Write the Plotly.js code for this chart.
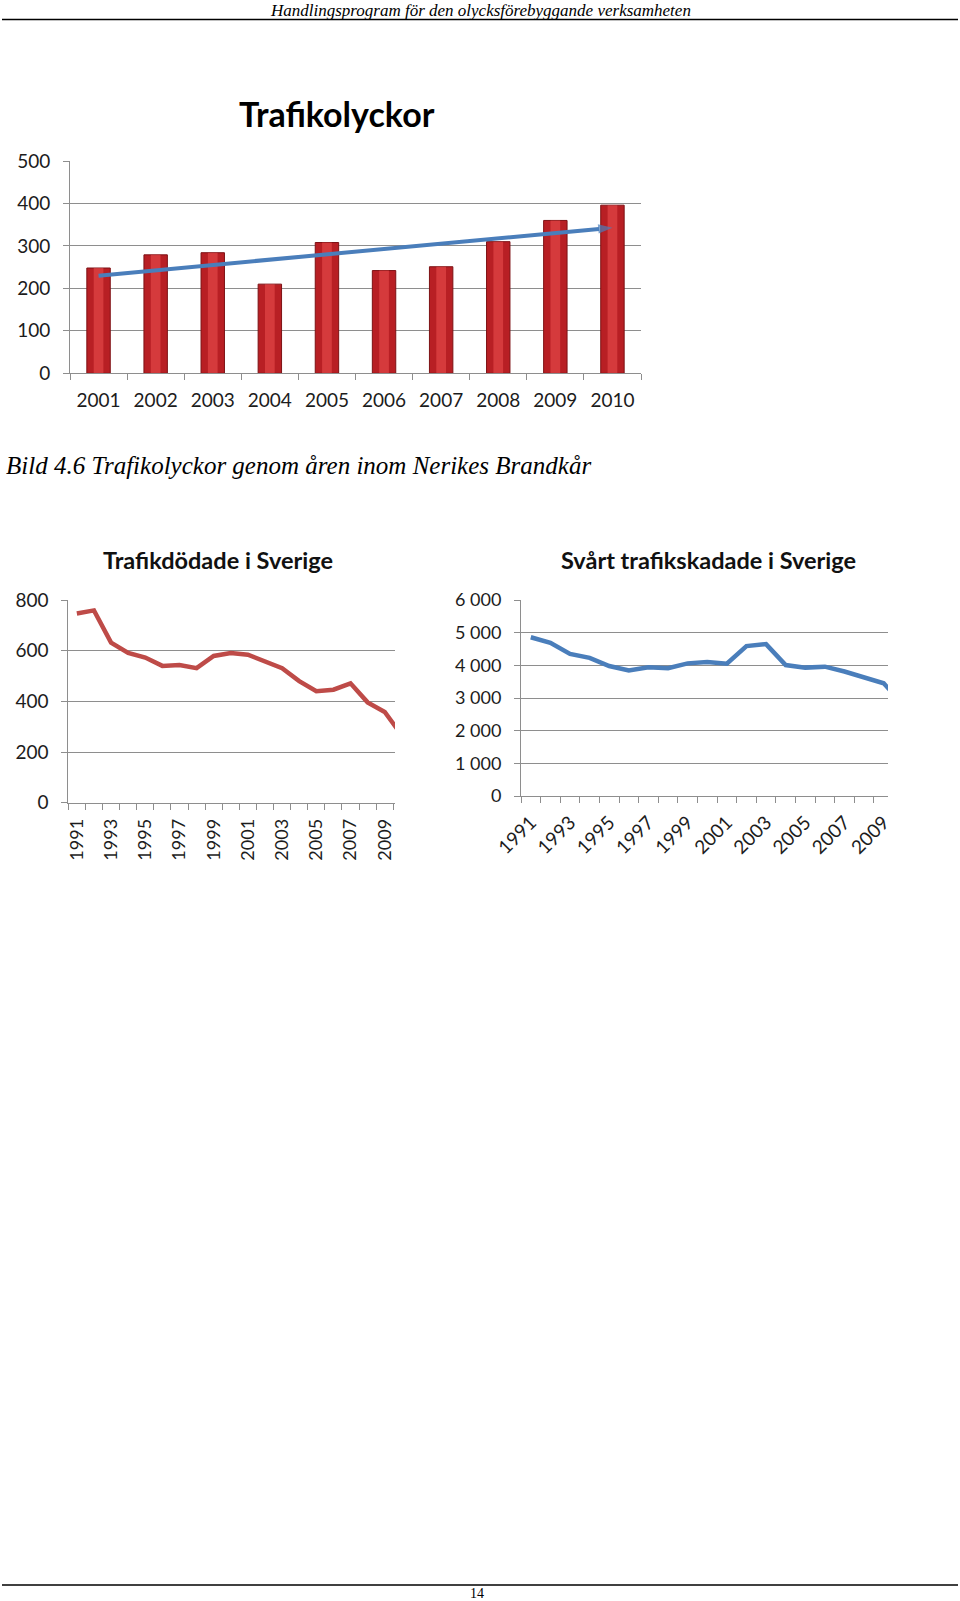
<!DOCTYPE html>
<html>
<head>
<meta charset="utf-8">
<script src="https://cdn.plot.ly/plotly-3.0.1.min.js"></script>
<style>
  html, body { margin: 0; padding: 0; background: #ffffff; }
  #chart { width: 960px; height: 1601px; }
</style>
</head>
<body>
<div id="chart"></div>
<script>
// ---------- Data ----------
const olyckaYears = ['2001', '2002', '2003', '2004', '2005', '2006', '2007', '2008', '2009', '2010'];
const olyckaValues = [248, 279, 284, 210, 308, 242, 251, 310, 360, 396];
const trendYears = ['2001', '2010'];
const trendValues = [230, 343];

const years = [1991, 1992, 1993, 1994, 1995, 1996, 1997, 1998, 1999, 2000,
               2001, 2002, 2003, 2004, 2005, 2006, 2007, 2008, 2009, 2010];
const dodadeValues = [747, 759, 632, 591, 573, 540, 543, 531, 579, 591,
                      584, 559, 531, 480, 440, 446, 471, 396, 358, 266];
const skadadeValues = [4860, 4690, 4350, 4230, 3980, 3840, 3940, 3910, 4060, 4100,
                       4050, 4590, 4650, 4010, 3930, 3960, 3810, 3630, 3450, 2800];

const yearLabelVals = [1991, 1993, 1995, 1997, 1999, 2001, 2003, 2005, 2007, 2009];
const skadadeTickVals = [0, 1000, 2000, 3000, 4000, 5000, 6000];
const skadadeTickText = ['0', '1 000', '2 000', '3 000', '4 000', '5 000', '6 000'];

const titleTop = 'Trafikolyckor';
const titleLeft = 'Trafikdödade i Sverige';
const titleRight = 'Svårt trafikskadade i Sverige';
const headerText = 'Handlingsprogram för den olycksförebyggande verksamheten';
const captionText = 'Bild 4.6 Trafikolyckor genom åren inom Nerikes Brandkår';
const pageNumber = '14';

// ---------- Geometry helpers ----------
const W = 960, H = 1601;
const px = x => x / W;
const py = y => 1 - y / H;

const FONT = 'Lato, "Open Sans", sans-serif';
const SERIF = '"Liberation Serif", "DejaVu Serif", serif';
const GRID = '#8e8e8e';
const TXT = '#1c1c1c';

const yAxisBase = {
  showline: true, linecolor: GRID, linewidth: 1,
  showgrid: true, gridcolor: GRID, gridwidth: 1,
  ticks: 'outside', ticklen: 6, tickcolor: GRID,
  zeroline: false, fixedrange: true,
  tickfont: { family: FONT, size: 19, color: TXT },
  ticklabelstandoff: 9
};

const traces = [
  {
    type: 'bar', x: olyckaYears, y: olyckaValues, xaxis: 'x', yaxis: 'y',
    width: 0.41,
    marker: { color: '#b81f24', line: { color: '#7d1114', width: 1 } },
    hoverinfo: 'x+y'
  },
  {
    type: 'bar', x: olyckaYears, y: olyckaValues, xaxis: 'x', yaxis: 'y',
    width: 0.17,
    marker: { color: 'rgba(236,80,80,0.55)', line: { width: 0 } },
    hoverinfo: 'skip'
  },
  {
    type: 'scatter', mode: 'lines+markers', x: trendYears, y: trendValues,
    xaxis: 'x', yaxis: 'y',
    line: { color: '#4a7ebb', width: 4 },
    marker: { symbol: ['circle', 'arrow'], size: [0, 15], color: '#4a7ebb',
              angleref: 'previous', line: { width: 0 } },
    cliponaxis: false,
    hoverinfo: 'skip'
  },
  {
    type: 'scatter', mode: 'lines', x: years, y: dodadeValues,
    xaxis: 'x2', yaxis: 'y2',
    line: { color: '#be4b48', width: 4.5 }
  },
  {
    type: 'scatter', mode: 'lines', x: years, y: skadadeValues,
    xaxis: 'x3', yaxis: 'y3',
    line: { color: '#4a7ebb', width: 4.5 }
  }
];

const layout = {
  width: W, height: H,
  margin: { l: 0, r: 0, t: 0, b: 0 },
  paper_bgcolor: '#ffffff', plot_bgcolor: 'rgba(0,0,0,0)',
  showlegend: false,
  barmode: 'overlay',
  font: { family: FONT, color: TXT },

  // Top bar chart
  xaxis: {
    domain: [px(70), px(641)], anchor: 'y',
    type: 'category', range: [-0.5, 9.5],
    showline: true, linecolor: GRID, linewidth: 1,
    showgrid: false, tickson: 'boundaries',
    ticks: 'outside', ticklen: 6, tickcolor: GRID,
    tickfont: { family: FONT, size: 19, color: TXT },
    ticklabelstandoff: 10, fixedrange: true
  },
  yaxis: Object.assign({}, yAxisBase, {
    domain: [py(373.3), py(161)], anchor: 'x',
    range: [0, 500], dtick: 100
  }),

  // Left line chart
  xaxis2: {
    domain: [px(68.3), px(395)], anchor: 'y2',
    type: 'linear', range: [1990.5, 2009.6],
    showline: true, linecolor: GRID, linewidth: 1,
    showgrid: false, zeroline: false,
    tickmode: 'array', tickvals: yearLabelVals, ticks: '',
    minor: { ticks: 'outside', tick0: 1990.5, dtick: 1, ticklen: 6, tickcolor: GRID, showgrid: false },
    tickangle: -90,
    tickfont: { family: FONT, size: 18, color: TXT },
    ticklabelstandoff: 8, fixedrange: true
  },
  yaxis2: Object.assign({}, yAxisBase, {
    domain: [py(802.7), py(600)], anchor: 'x2',
    range: [0, 800], dtick: 200
  }),

  // Right line chart
  xaxis3: {
    domain: [px(521), px(888)], anchor: 'y3',
    type: 'linear', range: [1990.5, 2009.22],
    showline: true, linecolor: GRID, linewidth: 1,
    showgrid: false, zeroline: false,
    tickmode: 'array', tickvals: yearLabelVals, ticks: '',
    minor: { ticks: 'outside', tick0: 1990.5, dtick: 1, ticklen: 6, tickcolor: GRID, showgrid: false },
    tickangle: -45,
    tickfont: { family: FONT, size: 19, color: TXT },
    ticklabelstandoff: 7, fixedrange: true
  },
  yaxis3: Object.assign({}, yAxisBase, {
    domain: [py(796), py(600)], anchor: 'x3',
    range: [0, 6000], tickmode: 'array',
    tickvals: skadadeTickVals, ticktext: skadadeTickText,
    tickfont: { family: FONT, size: 18, color: TXT }
  }),

  annotations: [
    { text: '<i>' + headerText + '</i>', x: px(480), y: py(0), xref: 'paper', yref: 'paper',
      xanchor: 'center', yanchor: 'top', showarrow: false, borderpad: 0,
      font: { family: SERIF, size: 17, color: '#000' } },
    { text: '<b>' + titleTop + '</b>', x: px(337), y: py(113), xref: 'paper', yref: 'paper',
      xanchor: 'center', yanchor: 'middle', showarrow: false,
      font: { family: FONT, size: 34, color: '#000' } },
    { text: '<i>' + captionText + '</i>', x: px(4), y: py(465), xref: 'paper', yref: 'paper',
      xanchor: 'left', yanchor: 'middle', showarrow: false,
      font: { family: SERIF, size: 25, color: '#000' } },
    { text: '<b>' + titleLeft + '</b>', x: px(218), y: py(560), xref: 'paper', yref: 'paper',
      xanchor: 'center', yanchor: 'middle', showarrow: false,
      font: { family: FONT, size: 23.5, color: '#111' } },
    { text: '<b>' + titleRight + '</b>', x: px(708), y: py(560), xref: 'paper', yref: 'paper',
      xanchor: 'center', yanchor: 'middle', showarrow: false,
      font: { family: FONT, size: 23.5, color: '#111' } },
    { text: pageNumber, x: px(477), y: py(1593), xref: 'paper', yref: 'paper',
      xanchor: 'center', yanchor: 'middle', showarrow: false,
      font: { family: SERIF, size: 14, color: '#000' } }
  ],

  shapes: [
    { type: 'line', xref: 'paper', yref: 'paper', x0: px(2), x1: px(958), y0: py(19.5), y1: py(19.5),
      line: { color: '#000', width: 1.5 } },
    { type: 'line', xref: 'paper', yref: 'paper', x0: px(2), x1: px(958), y0: py(1585), y1: py(1585),
      line: { color: '#000', width: 1.5 } }
  ]
};

Plotly.newPlot('chart', traces, layout, { staticPlot: true, displayModeBar: false });
</script>
</body>
</html>
